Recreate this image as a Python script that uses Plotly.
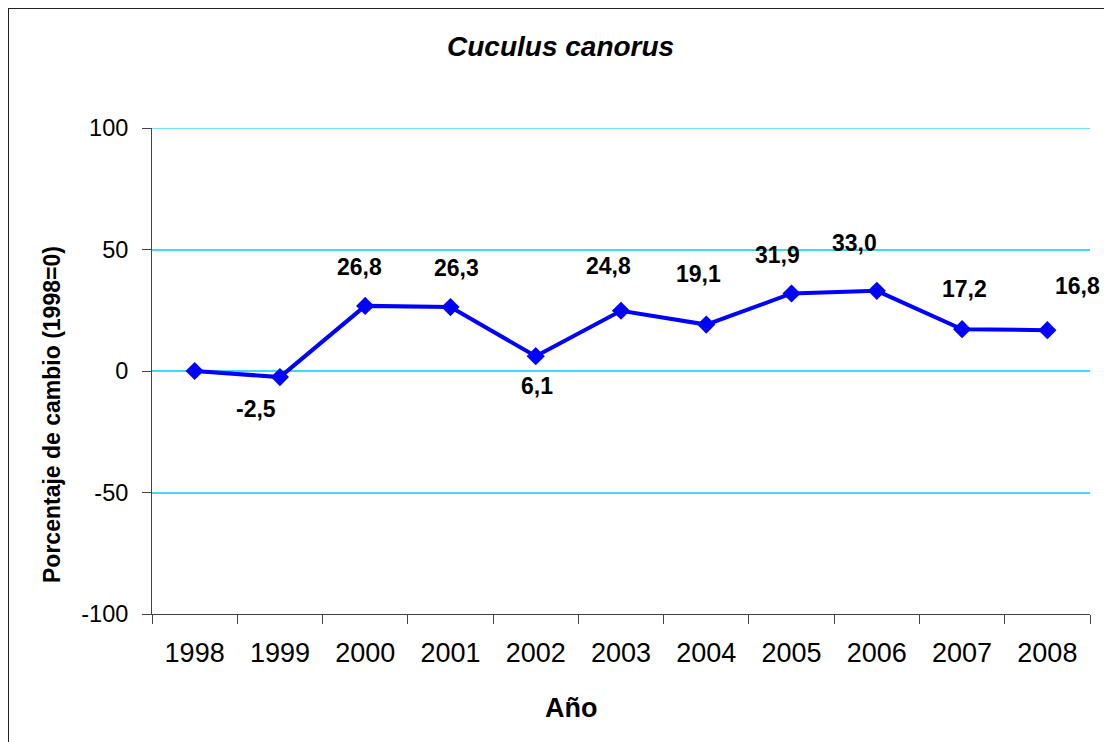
import plotly.graph_objects as go

years = ["1998", "1999", "2000", "2001", "2002", "2003", "2004", "2005", "2006", "2007", "2008"]
values = [0.0, -2.5, 26.8, 26.3, 6.1, 24.8, 19.1, 31.9, 33.0, 17.2, 16.8]
labels = ["", "-2,5", "26,8", "26,3", "6,1", "24,8", "19,1", "31,9", "33,0", "17,2", "16,8"]
y_ticks = [-100, -50, 0, 50, 100]

# label pixel offsets (layout only)
label_dx = [0, -24, -6, 6, 1, -13, -8, -14, -22, 2, 30]
label_dy = [0, -32, 39, 39, -30, 45, 51, 38, 48, 40, 44]

# page has an 8px body offset; work in reference coordinates and subtract it
OFF = 8
W, H = 1112 - OFF, 742 - OFF
L = 152 - OFF
R = W - (1090 - OFF)
T = 128 - OFF
B = H - (614 - OFF)
pw, ph = W - L - R, H - T - B

def px(xp):
    return (xp - OFF - L) / pw

def py(yp):
    return (H - B - (yp - OFF)) / ph

FONT = "Liberation Sans, Arial, sans-serif"
GRID = "#45D5F7"

fig = go.Figure()
fig.add_trace(go.Scatter(
    x=list(range(len(years))), y=values, mode="lines+markers",
    line=dict(color="#0000FF", width=4),
    marker=dict(symbol="diamond", size=14, color="#0000FF"),
    hoverinfo="skip", showlegend=False,
))

annotations = []
for i, (v, lab, dx, dy) in enumerate(zip(values, labels, label_dx, label_dy)):
    if not lab:
        continue
    annotations.append(dict(
        x=i, y=v, xref="x", yref="y", text="<b>" + lab + "</b>", showarrow=False,
        xshift=dx, yshift=dy, xanchor="center", yanchor="middle",
        font=dict(family=FONT, size=23, color="black"),
    ))

annotations.append(dict(
    x=px(560), y=py(47), xref="paper", yref="paper", text="<b><i>Cuculus canorus</i></b>",
    showarrow=False, xanchor="center", yanchor="middle",
    font=dict(family=FONT, size=28, color="black"),
))
annotations.append(dict(
    x=px(52), y=py(415), xref="paper", yref="paper", text="<b>Porcentaje de cambio (1998=0)</b>",
    showarrow=False, textangle=-90, xanchor="center", yanchor="middle",
    font=dict(family=FONT, size=23, color="black"),
))
annotations.append(dict(
    x=px(571), y=py(708), xref="paper", yref="paper", text="<b>Año</b>",
    showarrow=False, xanchor="center", yanchor="middle",
    font=dict(family=FONT, size=27, color="black"),
))

fig.update_layout(
    width=W, height=H,
    margin=dict(l=L, r=R, t=T, b=B, pad=0),
    paper_bgcolor="white", plot_bgcolor="white",
    annotations=annotations,
    shapes=[
        dict(type="line", xref="paper", yref="y", x0=0, x1=1, y0=100, y1=100,
             line=dict(color=GRID, width=1.5), layer="below"),
        dict(type="rect", xref="paper", yref="paper",
             x0=px(8), x1=px(1107), y0=py(800), y1=py(8),
             line=dict(color="#222222", width=2), layer="above"),
    ],
)
fig.update_xaxes(
    tickmode="array", tickvals=list(range(len(years))), ticktext=years,
    range=[-0.5, len(years) - 0.5], showgrid=False, zeroline=False,
    ticks="", showline=True, linecolor="#444444", linewidth=1,
    tickfont=dict(family=FONT, size=27, color="black"),
    ticklabelstandoff=15,
)
# boundary tick marks between categories via a second overlaying axis
fig.update_layout(xaxis2=dict(
    overlaying="x", anchor="y", side="bottom",
    range=[-0.5, len(years) - 0.5], tickmode="array",
    tickvals=[i - 0.5 for i in range(len(years) + 1)], ticktext=[""] * (len(years) + 1),
    ticks="outside", ticklen=9, tickcolor="#444444", tickwidth=1,
    showgrid=False, zeroline=False, showline=False, showticklabels=False,
))
fig.add_trace(go.Scatter(x=[0], y=[None], xaxis="x2", showlegend=False, hoverinfo="skip"))
fig.update_yaxes(
    range=[-100, 100], tickvals=y_ticks, ticktext=[str(t) for t in y_ticks],
    ticks="outside", ticklen=9, tickcolor="#444444", tickwidth=1,
    showline=True, linecolor="#444444", linewidth=1,
    showgrid=True, gridcolor=GRID, gridwidth=1.5, zeroline=False,
    tickfont=dict(family=FONT, size=23.5, color="black"),
    ticklabelstandoff=9,
)

fig.write_html("out.html")
